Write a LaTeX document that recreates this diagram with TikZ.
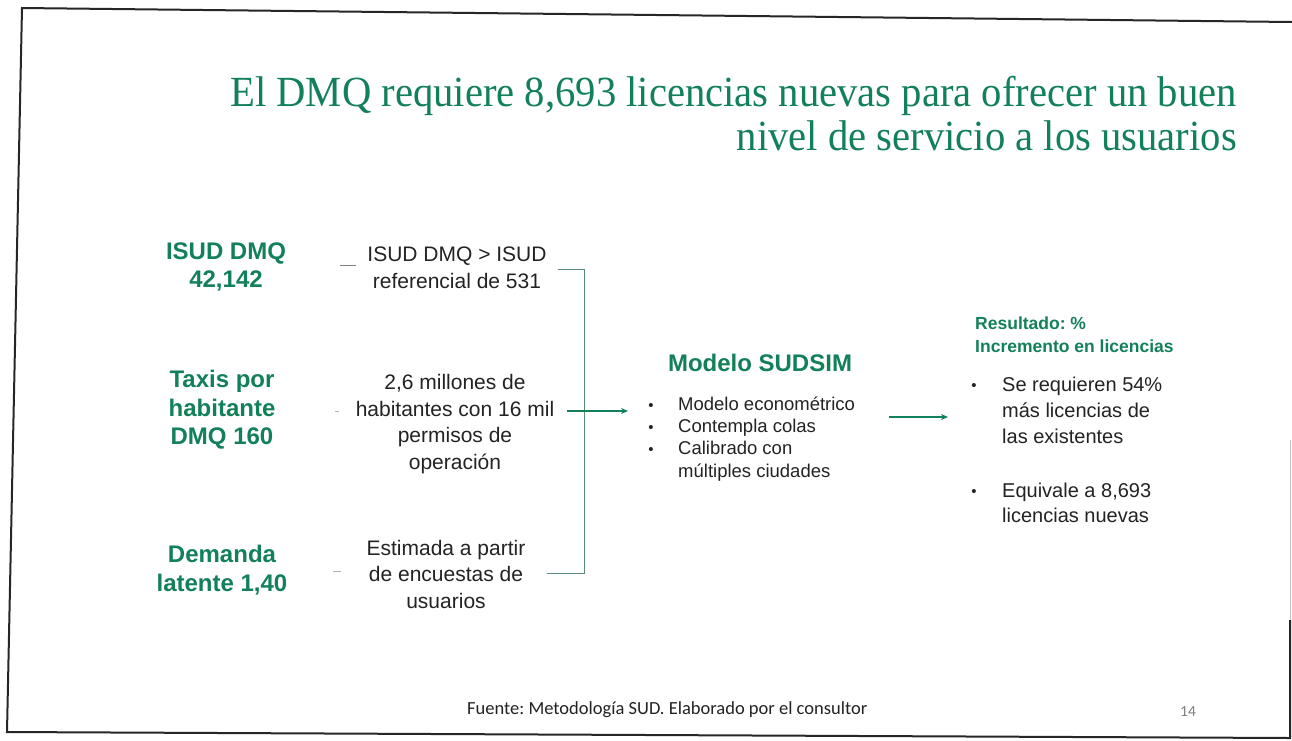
\documentclass[tikz,border=0pt]{standalone}
\usepackage{fontspec}
\setmainfont{Liberation Sans}
\newfontfamily\titlefont{Liberation Serif}
\newfontfamily\footfont{Carlito}
\usetikzlibrary{arrows.meta}
\definecolor{sgreen}{RGB}{18,128,88}
\definecolor{brkcol}{RGB}{90,140,115}
\definecolor{txt}{RGB}{35,35,35}
\tikzset{
  lab/.style={text=sgreen, font=\bfseries\fontsize{24}{28.5}\selectfont, align=center, inner sep=0pt},
  desc/.style={text=txt, font=\fontsize{21}{26.5}\selectfont, align=center, inner sep=0pt},
  ttl/.style={text=sgreen, font=\titlefont\fontsize{43}{44}\selectfont, inner sep=0pt, anchor=base east},
  item/.style={text=txt, font=\fontsize{18.5}{22}\selectfont, inner sep=0pt, anchor=base west},
  ritem/.style={text=txt, font=\fontsize{20}{26}\selectfont, inner sep=0pt, anchor=base west},
  bul/.style={text=txt, font=\fontsize{15}{15}\selectfont, inner sep=0pt, anchor=base},
  res/.style={text=sgreen, font=\bfseries\fontsize{17.5}{23}\selectfont, inner sep=0pt, anchor=base west},
  brk/.style={draw=brkcol, line width=1pt},
  arr/.style={draw=sgreen, line width=1.2pt, -{Stealth[length=7pt,width=6pt]}},
  tick/.style={draw=gray, line width=1pt},
  frame/.style={draw=black!85, line width=2pt},
}
\begin{document}
\frenchspacing
\begin{tikzpicture}[x=1pt,y=-1pt]
\useasboundingbox (0,0) rectangle (1292,740);
\fill[white] (0,0) rectangle (1292,740);
% frame
\coordinate (f1) at (22,8);
\coordinate (f2) at (1292,22);
\coordinate (f3) at (7,732);
\coordinate (f4) at (1290,738);
\coordinate (f5) at (1290,620);
\coordinate (f6) at (1290,440);
\draw[frame] (f2) -- (f1) -- (f3) -- (f4) -- (f5);
\draw[draw=black!25, line width=1pt] (f5) -- (f6);
% title
\node[ttl] (t1) at (1237,106) {\scalebox{0.945}[1]{El DMQ requiere 8,693 licencias nuevas para ofrecer un buen}};
\node[ttl] (t2) at (1237,150) {\scalebox{0.945}[1]{nivel de servicio a los usuarios}};
% left labels
\node[lab] (isud) at (226,267) {ISUD DMQ\\42,142};
\node[lab] (taxis) at (222,410) {Taxis por\\habitante\\DMQ 160};
\node[lab] (dem) at (222,570) {Demanda\\latente 1,40};
% descriptions
\node[desc] (d1) at (457,268) {ISUD DMQ > ISUD\\referencial de 531};
\node[desc] (d2) at (455,424) {2,6 millones de\\habitantes con 16 mil\\permisos de\\operación};
\node[desc] (d3) at (446,574) {Estimada a partir\\de encuestas de\\usuarios};
% small ticks
\coordinate (k1a) at (340,265); \coordinate (k1b) at (356,265);
\coordinate (k2a) at (335,411); \coordinate (k2b) at (339,411);
\coordinate (k3a) at (333,571); \coordinate (k3b) at (341,571);
\draw[tick] (k1a) -- (k1b);
\draw[tick, draw=gray!60] (k2a) -- (k2b);
\draw[tick, draw=gray!60] (k3a) -- (k3b);
% bracket
\coordinate (b1) at (558,269);
\coordinate (b2) at (584,269);
\coordinate (b3) at (584,573);
\coordinate (b4) at (547,573);
\draw[brk] (b1) -- (b2) -- (b3) -- (b4);
\coordinate (m1) at (567,411);
\coordinate (m2) at (628,411);
\draw[arr] (m1) -- (m2);
% model
\node[text=sgreen, font=\bfseries\fontsize{24}{28}\selectfont, inner sep=0pt, anchor=base] (model) at (760,371) {Modelo SUDSIM};
\node[bul] (mb1) at (651,410) {•};
\node[bul] (mb2) at (651,432) {•};
\node[bul] (mb3) at (651,454) {•};
\node[item] (mi1) at (678,410.5) {Modelo econométrico};
\node[item] (mi2) at (678,432) {Contempla colas};
\node[item] (mi3) at (678,454) {Calibrado con};
\node[item] (mi4) at (678,477) {múltiples ciudades};
\coordinate (a1) at (889,417);
\coordinate (a2) at (948,417);
\draw[arr] (a1) -- (a2);
% result
\node[res] (r1) at (975,329) {Resultado: \%};
\node[res] (r2) at (975,352) {Incremento en licencias};
\node[bul] (rb1) at (974,390) {•};
\node[bul] (rb2) at (974,496) {•};
\node[ritem] (ri1) at (1002,391) {Se requieren 54\%};
\node[ritem] (ri2) at (1002,417) {más licencias de};
\node[ritem] (ri3) at (1002,443) {las existentes};
\node[ritem] (ri4) at (1002,497) {Equivale a 8,693};
\node[ritem] (ri5) at (1002,522) {licencias nuevas};
% footer
\node[text=txt, font=\footfont\fontsize{18.5}{20}\selectfont, inner sep=0pt, anchor=base west] (src) at (467,714) {Fuente: Metodología SUD. Elaborado por el consultor};
\node[text=gray, font=\footfont\fontsize{15.5}{18}\selectfont, inner sep=0pt, anchor=base west] (pg) at (1180,716) {14};
\end{tikzpicture}
\end{document}
